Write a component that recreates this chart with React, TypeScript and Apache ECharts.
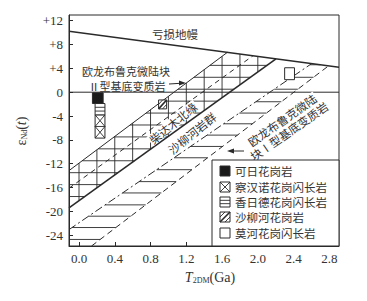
import React, { useEffect, useRef } from "react";
import * as echarts from "echarts";

const X_MIN = -0.112;
const X_MAX = 2.908;
const Y_MIN = -25.8;
const Y_MAX = 12.95;
const xTickValues = [0, 0.4, 0.8, 1.2, 1.6, 2.0, 2.4, 2.8];
const yTickValues = [-24, -20, -16, -12, -8, -4, 0, 4, 8, 12];

// depleted mantle: eps = intercept + slope * T
const dmLine = { intercept: 10, slope: -2 };
// crustal evolution lines
const lineIIUpper = { intercept: -11.9, slope: 11.2 };
const lineIIMid = { intercept: -14.9, slope: 10.8 };
const lineIILower = { intercept: -18.2, slope: 10.8 };
const lineIUpper = { intercept: -21.9, slope: 10.26 };
const lineILower = { intercept: -27.4, slope: 11.4 };

const typeIIVerticals = [0, 0.2, 0.4, 0.6, 0.8, 1.0, 1.2, 1.4, 1.6, 1.8, 2.0];
const typeIIHorizontals = [4.5, 2.5, 0.5, -1.5, -3.5, -5.5, -7.5, -9.5, -11.5, -13.5, -15.5, -17.5];
const typeIHorizontals = [4.6, 2.5, 0.5, -1.6, -3.5, -5.3, -7.2, -9.1, -11, -13, -15, -16.9, -18.9, -20.8, -22.7, -24.7];

// samples: [T min, eps min, T max, eps max, pattern]
const sampleNames = ["可日花岗岩", "察汉诺花岗闪长岩", "香日德花岗闪长岩", "沙柳河花岗岩", "莫河花岗闪长岩"];
const sampleBoxes = [
  [0.15, -1.9, 0.27, -0.1, 0],
  [0.18, -7.7, 0.29, -3.8, 1],
  [0.18, -3.8, 0.29, -1.9, 2],
  [0.89, -2.8, 0.98, -1.3, 3],
  [2.3, 2.1, 2.41, 4.1, 4],
];

const INK = "#2a2a2a";
const SERIF = '"Liberation Serif", "DejaVu Serif", serif';
const CJK = '"Noto Sans CJK SC", sans-serif';

type Ln = { intercept: number; slope: number };
const at = (l: Ln, x: number) => l.intercept + l.slope * x;
const xAt = (l: Ln, y: number) => (y - l.intercept) / l.slope;
function meetDM(l: Ln): number[] {
  const x = (dmLine.intercept - l.intercept) / (l.slope - dmLine.slope);
  return [x, at(l, x)];
}
function startOf(l: Ln): number[] {
  let x = X_MIN;
  let y = at(l, x);
  if (y < Y_MIN) {
    y = Y_MIN;
    x = xAt(l, Y_MIN);
  }
  return [x, y];
}

function hatchSegments(): number[][] {
  const segs: number[][] = [];
  for (const x of typeIIVerticals) {
    const yb = Math.max(at(lineIILower, x), Y_MIN);
    const yt = Math.min(at(lineIIUpper, x), at(dmLine, x));
    if (yt > yb) segs.push([x, yb, x, yt]);
  }
  for (const h of typeIIHorizontals) {
    const left = Math.max(xAt(lineIIUpper, h), X_MIN);
    const right = Math.min(xAt(lineIILower, h), xAt(dmLine, h));
    if (right > left) segs.push([left, h, right, h]);
  }
  for (const h of typeIHorizontals) {
    const left = Math.max(xAt(lineIUpper, h), X_MIN);
    const right = Math.min(xAt(lineILower, h), xAt(dmLine, h));
    if (right > left) segs.push([left, h, right, h]);
  }
  return segs;
}

function lineSeries(l: Ln, type: any, width: number) {
  return {
    type: "line",
    data: [startOf(l), meetDM(l)],
    showSymbol: false,
    silent: true,
    lineStyle: { color: INK, width, type },
  };
}

function patternChildren(kind: number, x: number, y: number, w: number, h: number, stroke: string, z = 0) {
  const ch: any[] = [];
  const ls = { stroke, lineWidth: 0.9 };
  if (kind === 0) {
    ch.push({ type: "rect", z, shape: { x, y, width: w, height: h }, style: { fill: "#1a1a1a", stroke, lineWidth: 1 } });
    return ch;
  }
  ch.push({ type: "rect", z, shape: { x, y, width: w, height: h }, style: { fill: "#fff", stroke, lineWidth: 1 } });
  if (kind === 1) {
    const n = Math.max(1, Math.round(h / w));
    const ch2 = h / n;
    for (let i = 0; i < n; i++) {
      const y0 = y + i * ch2;
      ch.push({ type: "line", z, shape: { x1: x, y1: y0, x2: x + w, y2: y0 + ch2 }, style: ls });
      ch.push({ type: "line", z, shape: { x1: x + w, y1: y0, x2: x, y2: y0 + ch2 }, style: ls });
      if (i > 0) ch.push({ type: "line", z, shape: { x1: x, y1: y0, x2: x + w, y2: y0 }, style: ls });
    }
  } else if (kind === 2) {
    const n = Math.max(2, Math.round(h / 4));
    for (let i = 1; i < n; i++) {
      const yy = y + (i * h) / n;
      ch.push({ type: "line", z, shape: { x1: x, y1: yy, x2: x + w, y2: yy }, style: ls });
    }
  } else if (kind === 3) {
    ch.push({ type: "line", z, shape: { x1: x, y1: y + h, x2: x + w, y2: y }, style: { stroke, lineWidth: 1.6 } });
    ch.push({ type: "line", z, shape: { x1: x, y1: y + h * 0.5, x2: x + w * 0.5, y2: y }, style: ls });
    ch.push({ type: "line", z, shape: { x1: x + w * 0.5, y1: y + h, x2: x + w, y2: y + h * 0.5 }, style: ls });
  }
  return ch;
}

function buildOption(): any {
  const segs = hatchSegments();
  const legendTop = 160;
  const legendLeft = 212;
  const rowY = [171, 187, 202, 217, 233];
  const graphic: any[] = [];
  graphic.push({
    type: "rect",
    shape: { x: legendLeft, y: legendTop, width: 339 - legendLeft, height: 246 - legendTop },
    style: { fill: "#fff", stroke: INK, lineWidth: 1 },
    z: 100,
  });
  sampleNames.forEach((name, k) => {
    patternChildren(k, 220, rowY[k] - 5, 10, 10, INK, 101).forEach((c) => graphic.push(c));
    graphic.push({
      type: "text",
      z: 101,
      x: 235,
      y: rowY[k],
      style: { text: name, fill: "#333", font: `11.5px ${CJK}`, lineHeight: 12, verticalAlign: "middle", align: "left" },
    });
  });
  const txt = (text: string, x: number, y: number, size: number, rot = 0, bg = false) => ({
    type: "text",
    x,
    y,
    rotation: (rot * Math.PI) / 180,
    z: 50,
    style: {
      text,
      fill: "#333",
      font: `${size}px ${CJK}`,
      lineHeight: size,
      align: "center",
      verticalAlign: "middle",
      ...(bg ? { backgroundColor: "#fff", padding: [0, 1] } : {}),
    },
  });
  graphic.push(txt("亏损地幔", 175, 34, 11.5));
  graphic.push(txt("欧龙布鲁克微陆块", 126, 71, 11));
  graphic.push(txt("Ⅱ型基底变质岩", 127, 85.5, 11));
  graphic.push(txt("柴达木北缘", 173, 123, 11.5, 39, true));
  graphic.push(txt("沙柳河岩群", 192, 133, 11.5, 39, true));
  graphic.push(txt("欧龙布鲁克微陆", 282, 120, 11.5, 35, true));
  graphic.push(txt("块Ⅰ型基底变质岩", 289, 131, 11.5, 35, true));
  // arrows
  graphic.push({ type: "line", z: 50, shape: { x1: 169, y1: 84, x2: 182, y2: 83.2 }, style: { stroke: INK, lineWidth: 1 } });
  graphic.push({ type: "polygon", z: 50, shape: { points: [[186, 83], [179, 80.5], [179, 85.5]] }, style: { fill: INK } });
  graphic.push({ type: "line", z: 50, shape: { x1: 244, y1: 151, x2: 231, y2: 151 }, style: { stroke: INK, lineWidth: 1 } });
  graphic.push({ type: "polygon", z: 50, shape: { points: [[227, 151], [234, 148.5], [234, 153.5]] }, style: { fill: INK } });
  // axis names
  graphic.push({
    type: "text",
    x: 21,
    y: 131,
    rotation: Math.PI / 2,
    style: {
      text: "{e|ε}{s|Nd}{n|(}{t|t}{n|)}",
      align: "center",
      verticalAlign: "middle",
      fill: "#333",
      rich: {
        e: { fontSize: 14, fontFamily: SERIF, fill: "#333" },
        s: { fontSize: 8, fontFamily: SERIF, fill: "#333", verticalAlign: "bottom", padding: [6, 0, 0, 0] },
        n: { fontSize: 14, fontFamily: SERIF, fill: "#333" },
        t: { fontSize: 14, fontFamily: SERIF, fontStyle: "italic", fill: "#333" },
      },
    },
  });
  graphic.push({
    type: "text",
    x: 210,
    y: 277,
    style: {
      text: "{t|T}{s|2DM}{n|(Ga)}",
      align: "center",
      verticalAlign: "middle",
      fill: "#333",
      rich: {
        t: { fontSize: 14, fontFamily: SERIF, fontStyle: "italic", fill: "#333" },
        s: { fontSize: 8, fontFamily: SERIF, fill: "#333", verticalAlign: "bottom", padding: [6, 0, 0, 0] },
        n: { fontSize: 14, fontFamily: SERIF, fill: "#333" },
      },
    },
  });

  return {
    animation: false,
    backgroundColor: "#fff",
    grid: { left: 69, right: 28, top: 15, bottom: 55, show: true, borderColor: INK, borderWidth: 1 },
    xAxis: {
      type: "value",
      min: X_MIN,
      max: X_MAX,
      splitLine: { show: false },
      axisLine: { show: true, onZero: false, lineStyle: { color: INK } },
      axisTick: { show: true, inside: true, length: 4, customValues: xTickValues, lineStyle: { color: INK } },
      axisLabel: {
        customValues: xTickValues,
        formatter: (v: number) => v.toFixed(1),
        fontFamily: SERIF,
        fontSize: 13,
        color: "#333",
        margin: 6,
      },
    },
    yAxis: {
      type: "value",
      min: Y_MIN,
      max: Y_MAX,
      splitLine: { show: false },
      axisLine: { show: true, onZero: false, lineStyle: { color: INK } },
      axisTick: { show: true, inside: true, length: 4, customValues: yTickValues, lineStyle: { color: INK } },
      axisLabel: {
        customValues: yTickValues,
        formatter: (v: number) => (v > 0 ? "+" + v : String(v)),
        fontFamily: SERIF,
        fontSize: 13,
        color: "#333",
        margin: 6,
      },
    },
    graphic,
    series: [
      {
        type: "line",
        data: [[X_MIN, at(dmLine, X_MIN)], [X_MAX, at(dmLine, X_MAX)]],
        showSymbol: false,
        silent: true,
        lineStyle: { color: INK, width: 1.3 },
      },
      {
        type: "line",
        data: [[X_MIN, 0], [X_MAX, 0]],
        showSymbol: false,
        silent: true,
        lineStyle: { color: INK, width: 1 },
      },
      lineSeries(lineIIUpper, "solid", 1),
      lineSeries(lineIIMid, [5, 4], 1),
      lineSeries(lineIILower, "solid", 1.6),
      lineSeries(lineIUpper, [8, 3, 2, 3], 1),
      lineSeries(lineILower, [6, 4], 1),
      {
        type: "custom",
        clip: true,
        silent: true,
        data: segs,
        renderItem: (_p: any, api: any) => {
          const a = api.coord([api.value(0), api.value(1)]);
          const b = api.coord([api.value(2), api.value(3)]);
          return { type: "line", shape: { x1: a[0], y1: a[1], x2: b[0], y2: b[1] }, style: { stroke: INK, lineWidth: 0.9 } };
        },
      },
      {
        type: "custom",
        clip: true,
        silent: true,
        z: 5,
        data: sampleBoxes,
        renderItem: (_p: any, api: any) => {
          const tl = api.coord([api.value(0), api.value(3)]);
          const br = api.coord([api.value(2), api.value(1)]);
          return {
            type: "group",
            children: patternChildren(api.value(4), tl[0], tl[1], br[0] - tl[0], br[1] - tl[1], INK),
          };
        },
      },
    ],
  };
}

export default function App() {
  const ref = useRef<HTMLDivElement>(null);
  useEffect(() => {
    const chart = echarts.init(ref.current!, null, { renderer: "svg" });
    chart.setOption(buildOption());
    return () => chart.dispose();
  }, []);
  return (
    <div
      ref={ref}
      style={{ position: "fixed", left: 0, top: 0, width: 367, height: 301, background: "#fff" }}
    />
  );
}
